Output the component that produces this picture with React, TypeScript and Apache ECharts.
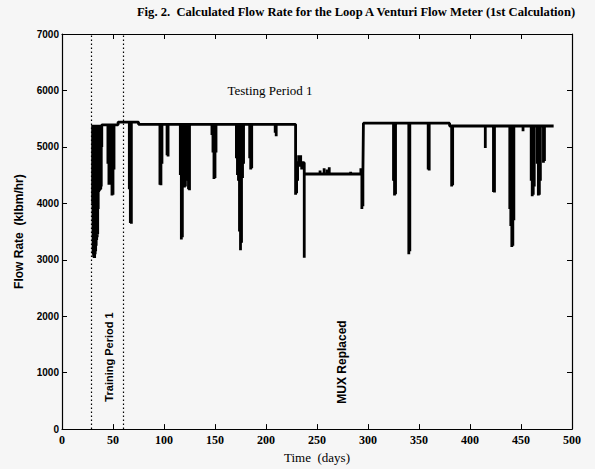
import React, { useEffect, useRef } from "react";
import * as echarts from "echarts";

const chartTitle = "Fig. 2.  Calculated Flow Rate for the Loop A Venturi Flow Meter (1st Calculation)";
const xName = "Time  (days)";
const yName = "Flow Rate  (klbm/hr)";
const annotationTesting = "Testing Period 1";
const annotationTraining = "Training Period 1";
const annotationMux = "MUX Replaced";

const xMin = 0;
const xMax = 500;
const xStep = 50;
const yMin = 0;
const yMax = 7000;
const yStep = 1000;

// steady flow levels (day ranges)
const segStart = [30, 55, 75, 229, 237.5, 295.5, 380];
const segEnd = [55, 75, 229, 237.5, 295.5, 380, 482];
const segFlow = [5390, 5440, 5400, 4720, 4520, 5420, 5370];

// downward (and a few upward) excursions: day, flow reached
const spikeDay = [
  30, 30.5, 31, 31.5, 32, 32.5, 33, 33.5, 34, 34.5, 35, 35.5, 36, 36.5, 37, 37.5, 38, 38.5, 39,
  45, 46, 47, 48, 49, 50, 51,
  66, 67, 68,
  96, 97, 98, 103, 104,
  116, 117, 118, 119, 120, 121, 122, 123, 124, 125,
  147, 148, 149, 150, 151,
  171, 172, 173, 174, 175, 176, 177, 178,
  184, 185, 186,
  209, 210,
  229, 230, 231, 232, 233, 234, 235, 237.5,
  253, 257, 260, 262, 283, 293, 294, 295,
  325, 326, 327, 340, 341, 359, 360,
  382, 383, 415, 423, 424,
  439, 440, 441, 442, 443, 452,
  460, 461, 462, 463, 466, 467, 468, 469, 472, 473,
];
const spikeFlow = [
  4000, 3100, 3050, 3030, 3030, 3100, 3150, 3250, 3350, 3400, 3450, 3900, 4200, 4220, 4230, 4240, 4250, 4300, 5000,
  4700, 4330, 4330, 4400, 4140, 4150, 4600,
  4250, 3650, 3640,
  4330, 4320, 4700, 4850, 4830,
  4500, 3360, 3400, 4300, 4280, 4300, 4400, 4700, 4250, 4230,
  5210, 4900, 4430, 4450, 4900,
  4800, 4500, 4400, 3500, 3170, 3300, 4450, 4700,
  4800, 4600, 4620,
  5250, 5190,
  4150, 4180, 4400, 4850, 4650, 4850, 4600, 3035,
  4580, 4620, 4600, 4640, 4560, 4620, 3900, 3950,
  4400, 4140, 4160, 3100, 3150, 4600, 4580,
  4300, 4320, 4980, 4200, 4190,
  3900, 3600, 3225, 3250, 3700, 5275,
  4400, 4125, 4150, 4300, 4700, 4140, 4150, 4400, 4720, 4750,
];

const trainingBounds = [29, 60];

function buildTrace(): [number, number][] {
  const out: [number, number][] = [];
  for (let s = 0; s < segStart.length; s++) {
    const a = segStart[s];
    const b = segEnd[s];
    const f = segFlow[s];
    out.push([a, f]);
    const idx = spikeDay
      .map((d, i) => i)
      .filter((i) => spikeDay[i] >= a && spikeDay[i] < b)
      .sort((i, j) => spikeDay[i] - spikeDay[j]);
    for (const i of idx) {
      out.push([spikeDay[i], f]);
      out.push([spikeDay[i], spikeFlow[i]]);
      out.push([spikeDay[i], f]);
    }
    out.push([b, f]);
  }
  return out;
}

export default function App() {
  const ref = useRef<HTMLDivElement>(null);
  useEffect(() => {
    if (!ref.current) return;
    const chart = echarts.init(ref.current, undefined, { renderer: "svg" });
    const axisLine = { show: true, onZero: false, lineStyle: { color: "#000", width: 1.2 } };
    const tick = { show: true, inside: true, length: 5, lineStyle: { color: "#000", width: 1 } };
    const plain = (v: number) => String(v);
    chart.setOption({
      animation: false,
      backgroundColor: "#f6f6f6",
      grid: { left: 62, right: 23, top: 34, bottom: 33, containLabel: false },
      xAxis: [
        {
          type: "value", min: xMin, max: xMax, interval: xStep, position: "bottom",
          axisLine, axisTick: tick, splitLine: { show: false },
          axisLabel: { color: "#000", fontFamily: "Liberation Serif", fontWeight: "bold", fontSize: 12, margin: 5, formatter: plain },
          name: xName, nameLocation: "middle", nameGap: 20,
          nameTextStyle: { color: "#000", fontFamily: "Liberation Serif", fontSize: 13 },
        },
        {
          type: "value", min: xMin, max: xMax, interval: xStep, position: "top",
          axisLine, axisTick: tick, splitLine: { show: false }, axisLabel: { show: false },
        },
      ],
      yAxis: [
        {
          type: "value", min: yMin, max: yMax, interval: yStep, position: "left",
          axisLine, axisTick: tick, splitLine: { show: false },
          axisLabel: { color: "#000", fontFamily: "Liberation Sans", fontWeight: "bold", fontSize: 10, margin: 3, formatter: plain },
          name: yName, nameLocation: "middle", nameGap: 37,
          nameTextStyle: { color: "#000", fontFamily: "Liberation Sans", fontWeight: "bold", fontSize: 12 },
        },
        {
          type: "value", min: yMin, max: yMax, interval: yStep, position: "right",
          axisLine, axisTick: tick, splitLine: { show: false }, axisLabel: { show: false },
        },
      ],
      series: [
        {
          type: "line",
          xAxisIndex: 0,
          yAxisIndex: 0,
          data: buildTrace(),
          showSymbol: false,
          symbol: "none",
          lineStyle: { color: "#000", width: 2.8 },
          markLine: {
            silent: true,
            symbol: ["none", "none"],
            label: { show: false },
            lineStyle: { color: "#000", type: [1.5, 2.5], width: 1.2 },
            data: trainingBounds.map((d) => ({ xAxis: d })),
          },
        },
      ],
      graphic: [
        {
          type: "text", x: 356, y: 12,
          style: { text: chartTitle, fill: "#000", font: "bold 12.6px 'Liberation Serif'", textAlign: "center", textVerticalAlign: "middle" },
        },
        {
          type: "text", x: 270, y: 90,
          style: { text: annotationTesting, fill: "#000", font: "13px 'Liberation Serif'", textAlign: "center", textVerticalAlign: "middle" },
        },
        {
          type: "text", x: 109, y: 357, rotation: Math.PI / 2,
          style: { text: annotationTraining, fill: "#000", font: "bold 11px 'Liberation Sans'", textAlign: "center", textVerticalAlign: "middle" },
        },
        {
          type: "text", x: 342, y: 362, rotation: Math.PI / 2,
          style: { text: annotationMux, fill: "#000", font: "bold 12px 'Liberation Sans'", textAlign: "center", textVerticalAlign: "middle" },
        },
      ],
    });
    return () => chart.dispose();
  }, []);
  return <div ref={ref} style={{ position: "absolute", left: 0, top: 0, width: 595, height: 469 }} />;
}
